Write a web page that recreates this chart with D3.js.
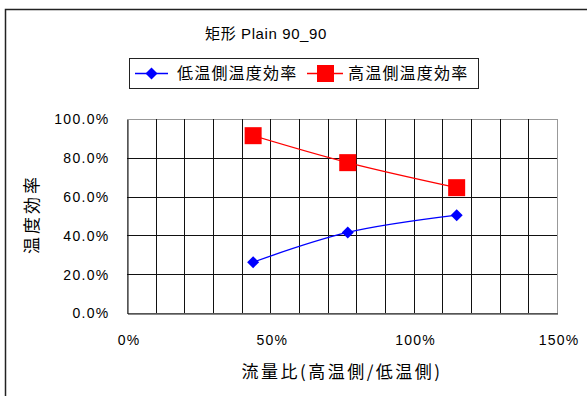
<!DOCTYPE html>
<html>
<head>
<meta charset="utf-8">
<script src="https://cdn.jsdelivr.net/npm/d3@7"></script>
<style>
  html, body { margin: 0; padding: 0; background: #fff; }
  svg { display: block; }
  text { font-family: "Liberation Sans", Arial, "Noto Sans CJK JP", sans-serif; fill: #000; }
  .cjk { font-family: "Noto Sans CJK JP", sans-serif; }
</style>
</head>
<body>
<svg id="chart" width="587" height="396"></svg>
<script>
// Flow ratio (hot side / cold side) and temperature efficiency
const flowRatio = [0.44, 0.77, 1.15];
const lowSideEff = [0.262, 0.415, 0.504];
const highSideEff = [0.914, 0.775, 0.646];
const seriesNames = ["低温側温度効率", "高温側温度効率"];
const xTicks = [0, 0.5, 1.0, 1.5];
const yTicks = [0, 0.2, 0.4, 0.6, 0.8, 1.0];
const titleText = "矩形 Plain 90_90";
const xTitle = "流量比(高温側/低温側)";
const yTitle = "温度効率";

const svg = d3.select("#chart");
const W = 587, H = 396;
const plot = { left: 127, top: 119, right: 557, bottom: 313 };

svg.append("rect").attr("width", W).attr("height", H).attr("fill", "#fff");
// chart frame
svg.append("rect")
  .attr("x", 5.5).attr("y", 9.5).attr("width", 600).attr("height", 400)
  .attr("fill", "none").attr("stroke", "#222").attr("stroke-width", 1.5);

const x = d3.scaleLinear().domain([0, 1.5]).range([plot.left, plot.right]);
const y = d3.scaleLinear().domain([0, 1.0]).range([plot.bottom, plot.top]);

// plot area outline (top/right grey)
svg.append("rect")
  .attr("x", plot.left + 0.5).attr("y", plot.top + 0.5)
  .attr("width", plot.right - plot.left).attr("height", plot.bottom - plot.top)
  .attr("fill", "#fff").attr("stroke", "#999").attr("stroke-width", 1);

// grid lines every 10% horizontally, 20% vertically
const xGrid = d3.range(1, 15).map(i => i / 10);
svg.append("g").selectAll("line").data(xGrid).join("line")
  .attr("x1", d => Math.round(x(d)) + 0.5).attr("x2", d => Math.round(x(d)) + 0.5)
  .attr("y1", plot.top).attr("y2", plot.bottom)
  .attr("stroke", "#111").attr("stroke-width", 1);
svg.append("g").selectAll("line").data(yTicks.slice(1, -1)).join("line")
  .attr("x1", plot.left).attr("x2", plot.right)
  .attr("y1", d => Math.round(y(d)) + 0.5).attr("y2", d => Math.round(y(d)) + 0.5)
  .attr("stroke", "#111").attr("stroke-width", 1);

// axes
const xAxis = d3.axisBottom(x).tickValues(xTicks).tickSize(0).tickPadding(22)
  .tickFormat(d3.format(".0%"));
const gx = svg.append("g").attr("transform", `translate(1.5,${plot.bottom + 0.5})`).call(xAxis);
gx.select(".domain").attr("stroke", "#111").attr("transform", "translate(-1,0)");
gx.selectAll("text").attr("font-size", 14).attr("letter-spacing", "1.2px")
  .attr("font-family", "Liberation Sans, Arial, sans-serif");

const yAxis = d3.axisLeft(y).tickValues(yTicks).tickSize(0).tickPadding(18)
  .tickFormat(d3.format(".1%"));
const gy = svg.append("g").attr("transform", `translate(${plot.left + 0.5},0.5)`).call(yAxis);
gy.select(".domain").attr("stroke", "#111");
gy.selectAll("text").attr("font-size", 14).attr("letter-spacing", "1.3px")
  .attr("font-family", "Liberation Sans, Arial, sans-serif");

// series
const lowPts = flowRatio.map((v, i) => [x(v), y(lowSideEff[i])]);
const highPts = flowRatio.map((v, i) => [x(v), y(highSideEff[i])]);
const line = d3.line().curve(d3.curveCatmullRom.alpha(0.5));

svg.append("path").attr("d", line(lowPts)).attr("fill", "none")
  .attr("stroke", "#0000ff").attr("stroke-width", 1.3);
svg.append("path").attr("d", line(highPts)).attr("fill", "none")
  .attr("stroke", "#ff0000").attr("stroke-width", 1.3);

const diamond = d3.symbol().type(d3.symbolSquare).size(72);
svg.append("g").selectAll("path").data(lowPts).join("path")
  .attr("d", diamond)
  .attr("transform", d => `translate(${d[0]},${d[1]}) rotate(45)`)
  .attr("fill", "#0000ff");
svg.append("g").selectAll("rect").data(highPts).join("rect")
  .attr("x", d => d[0] - 8.5).attr("y", d => d[1] - 8.5)
  .attr("width", 17).attr("height", 17).attr("fill", "#ff0000");

// title
svg.append("text").attr("x", 266).attr("y", 39).attr("text-anchor", "middle")
  .attr("font-size", 15).attr("letter-spacing", "0.6px").text(titleText);

// legend
const lg = svg.append("g");
lg.append("rect").attr("x", 129.5).attr("y", 58.5).attr("width", 349).attr("height", 30)
  .attr("fill", "#fff").attr("stroke", "#222").attr("stroke-width", 1);
lg.append("line").attr("x1", 135).attr("x2", 168).attr("y1", 73.5).attr("y2", 73.5)
  .attr("stroke", "#0000ff").attr("stroke-width", 1.3);
lg.append("path").attr("d", diamond).attr("transform", "translate(151.5,73.5) rotate(45)")
  .attr("fill", "#0000ff");
lg.append("text").attr("class", "cjk").attr("x", 177).attr("y", 79).attr("font-size", 16)
  .attr("letter-spacing", "1.2px").text(seriesNames[0]);
lg.append("line").attr("x1", 307).attr("x2", 343).attr("y1", 73.5).attr("y2", 73.5)
  .attr("stroke", "#ff0000").attr("stroke-width", 1.3);
lg.append("rect").attr("x", 317).attr("y", 65).attr("width", 17).attr("height", 17)
  .attr("fill", "#ff0000");
lg.append("text").attr("class", "cjk").attr("x", 348).attr("y", 79).attr("font-size", 16)
  .attr("letter-spacing", "1.2px").text(seriesNames[1]);

// axis titles
svg.append("text").attr("class", "cjk").attr("x", 342).attr("y", 378)
  .attr("text-anchor", "middle").attr("font-size", 17).attr("letter-spacing", "2.5px")
  .text(xTitle);
svg.append("text").attr("class", "cjk")
  .attr("transform", "translate(38,214) rotate(-90)")
  .attr("text-anchor", "middle").attr("font-size", 17).attr("letter-spacing", "3px")
  .text(yTitle);
</script>
</body>
</html>
